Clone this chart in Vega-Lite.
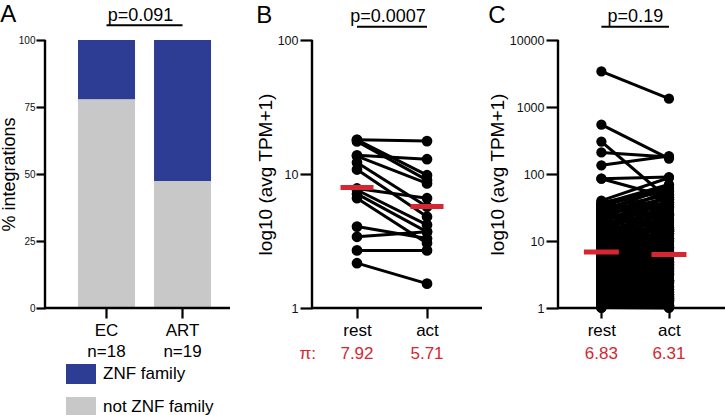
{
  "$schema": "https://vega.github.io/schema/vega-lite/v6.json",
  "padding": {"left": 0, "top": 2, "right": 0, "bottom": 0},
  "background": "white",
  "config": {
    "font": "Liberation Sans",
    "view": {"stroke": null, "fill": null},
    "axis": {"domain": false, "ticks": true, "tickColor": "black", "tickWidth": 2.2, "zindex": 1, "labelColor": "#111", "titleColor": "black", "grid": false, "titleFontWeight": "normal", "labelFont": "Liberation Sans", "titleFont": "Liberation Sans"},
    "title": {"fontSize": 24, "fontWeight": "normal", "anchor": "start", "frame": "bounds", "offset": -20, "font": "Liberation Sans"}
  },
  "datasets": {
    "A": [
      {"cohort": "EC", "group": "ZNF family", "pct": 22.2},
      {"cohort": "EC", "group": "not ZNF family", "pct": 77.8},
      {"cohort": "ART", "group": "ZNF family", "pct": 52.6},
      {"cohort": "ART", "group": "not ZNF family", "pct": 47.4}
    ],
    "B": [
      {"rest": 18.0, "act": 17.6}, {"rest": 18.0, "act": 9.8}, {"rest": 17.5, "act": 9.0},
      {"rest": 13.8, "act": 12.9}, {"rest": 13.6, "act": 8.5}, {"rest": 12.2, "act": 5.7},
      {"rest": 10.8, "act": 4.8}, {"rest": 7.8, "act": 6.6}, {"rest": 7.6, "act": 4.17},
      {"rest": 7.1, "act": 3.7}, {"rest": 6.6, "act": 3.04}, {"rest": 4.05, "act": 3.3},
      {"rest": 3.4, "act": 3.7}, {"rest": 2.69, "act": 2.69}, {"rest": 2.16, "act": 1.52}
    ],
    "Bmean": [{"cond": "rest", "m": 7.92}, {"cond": "act", "m": 5.71}],
    "C": [
      {"rest": 3390, "act": 1330}, {"rest": 545, "act": 170}, {"rest": 305, "act": 42},
      {"rest": 210, "act": 180}, {"rest": 135, "act": 185}, {"rest": 85, "act": 90},
      {"rest": 85, "act": 45}, {"rest": 40, "act": 88}, {"rest": 36, "act": 70},
      {"rest": 33, "act": 62}, {"rest": 38, "act": 55},
      {"rest": 1.0, "act": 1.3}, {"rest": 1.02, "act": 1.0}, {"rest": 1.05, "act": 2.4}, {"rest": 1.08, "act": 1.1}, {"rest": 1.1, "act": 1.8},
      {"rest": 1.13, "act": 1.05}, {"rest": 1.16, "act": 3.1}, {"rest": 1.2, "act": 1.2}, {"rest": 1.23, "act": 1.5}, {"rest": 1.27, "act": 2.0},
      {"rest": 1.3, "act": 1.02}, {"rest": 1.34, "act": 2.8}, {"rest": 1.38, "act": 1.6}, {"rest": 1.42, "act": 4.5}, {"rest": 1.46, "act": 1.25},
      {"rest": 1.5, "act": 1.4}, {"rest": 1.55, "act": 3.6}, {"rest": 1.6, "act": 1.15}, {"rest": 1.65, "act": 2.2}, {"rest": 1.7, "act": 1.9},
      {"rest": 1.75, "act": 1.35}, {"rest": 1.8, "act": 5.5}, {"rest": 1.86, "act": 2.6}, {"rest": 1.92, "act": 1.7}, {"rest": 1.98, "act": 3.3},
      {"rest": 2.05, "act": 1.08}, {"rest": 2.1, "act": 6.5}, {"rest": 2.2, "act": 2.1}, {"rest": 2.25, "act": 4.0}, {"rest": 2.3, "act": 1.55},
      {"rest": 2.4, "act": 2.9}, {"rest": 2.5, "act": 1.45}, {"rest": 2.6, "act": 7.8}, {"rest": 2.7, "act": 3.5}, {"rest": 2.8, "act": 2.0},
      {"rest": 2.9, "act": 9.5}, {"rest": 3.0, "act": 1.75}, {"rest": 3.1, "act": 4.8}, {"rest": 3.2, "act": 2.5}, {"rest": 3.3, "act": 12},
      {"rest": 3.45, "act": 3.0}, {"rest": 3.6, "act": 5.2}, {"rest": 3.7, "act": 1.6}, {"rest": 3.85, "act": 8.5}, {"rest": 4.0, "act": 4.2},
      {"rest": 4.1, "act": 2.3}, {"rest": 4.3, "act": 14}, {"rest": 4.4, "act": 3.8}, {"rest": 4.6, "act": 6.0}, {"rest": 4.8, "act": 1.9},
      {"rest": 5.0, "act": 4.4}, {"rest": 5.2, "act": 11}, {"rest": 5.4, "act": 3.2}, {"rest": 5.6, "act": 7.0}, {"rest": 5.8, "act": 2.7},
      {"rest": 6.0, "act": 16}, {"rest": 6.3, "act": 5.0}, {"rest": 6.5, "act": 9.0}, {"rest": 6.8, "act": 1.85}, {"rest": 7.0, "act": 6.2},
      {"rest": 7.3, "act": 20}, {"rest": 7.6, "act": 4.6}, {"rest": 7.9, "act": 10}, {"rest": 8.2, "act": 2.4}, {"rest": 8.5, "act": 13},
      {"rest": 8.8, "act": 7.4}, {"rest": 9.2, "act": 3.4}, {"rest": 9.5, "act": 25}, {"rest": 9.9, "act": 5.8}, {"rest": 10.3, "act": 8.0},
      {"rest": 10.7, "act": 6.8}, {"rest": 11.1, "act": 18}, {"rest": 11.5, "act": 3.9}, {"rest": 12, "act": 30}, {"rest": 12.5, "act": 9.8},
      {"rest": 13, "act": 5.3}, {"rest": 13.5, "act": 15}, {"rest": 14, "act": 22}, {"rest": 14.5, "act": 2.6}, {"rest": 15, "act": 11.5},
      {"rest": 15.6, "act": 40}, {"rest": 16.2, "act": 8.8}, {"rest": 16.8, "act": 14.5}, {"rest": 17.5, "act": 28}, {"rest": 18.2, "act": 6.5},
      {"rest": 19, "act": 19}, {"rest": 19.7, "act": 45}, {"rest": 20.5, "act": 12.5}, {"rest": 21.3, "act": 35}, {"rest": 22, "act": 4.3},
      {"rest": 23, "act": 26}, {"rest": 24, "act": 55}, {"rest": 25, "act": 17}, {"rest": 26, "act": 38}, {"rest": 27, "act": 10.5},
      {"rest": 28.5, "act": 62}, {"rest": 30, "act": 24}, {"rest": 31, "act": 48}, {"rest": 32.5, "act": 21}, {"rest": 34, "act": 33},
      {"rest": 2.0, "act": 2.3}, {"rest": 3.5, "act": 1.3}, {"rest": 5.5, "act": 2.0}, {"rest": 8.0, "act": 3.0}, {"rest": 11, "act": 4.5},
      {"rest": 16, "act": 6.0}, {"rest": 24, "act": 9.0}, {"rest": 29, "act": 14}, {"rest": 33, "act": 20}, {"rest": 1.4, "act": 6.0},
      {"rest": 1.9, "act": 9.0}, {"rest": 2.6, "act": 15}, {"rest": 4.2, "act": 25}, {"rest": 6.2, "act": 35}, {"rest": 9.0, "act": 42},
      {"rest": 1.15, "act": 1.7}, {"rest": 1.6, "act": 1.1}, {"rest": 3.0, "act": 2.6}, {"rest": 12.8, "act": 1.5}, {"rest": 20, "act": 2.2},
      {"rest": 26, "act": 3.5}, {"rest": 31, "act": 5.5}, {"rest": 34, "act": 8.0}, {"rest": 17, "act": 1.2}, {"rest": 22.5, "act": 1.4},
      {"rest": 1.05, "act": 4.0}, {"rest": 1.12, "act": 2.7}, {"rest": 1.25, "act": 8.0}, {"rest": 1.33, "act": 1.9}, {"rest": 1.45, "act": 12},
      {"rest": 1.58, "act": 3.0}, {"rest": 1.72, "act": 1.25}, {"rest": 1.85, "act": 20}, {"rest": 2.0, "act": 4.8}, {"rest": 2.15, "act": 1.6},
      {"rest": 2.35, "act": 30}, {"rest": 2.55, "act": 6.8}, {"rest": 2.75, "act": 1.15}, {"rest": 2.95, "act": 18}, {"rest": 3.15, "act": 3.9},
      {"rest": 3.4, "act": 50}, {"rest": 3.65, "act": 2.1}, {"rest": 3.9, "act": 11}, {"rest": 4.2, "act": 1.05}, {"rest": 4.5, "act": 7.2},
      {"rest": 4.9, "act": 38}, {"rest": 5.3, "act": 1.4}, {"rest": 5.7, "act": 4.9}, {"rest": 6.1, "act": 60}, {"rest": 6.6, "act": 2.9},
      {"rest": 7.1, "act": 13}, {"rest": 7.7, "act": 1.02}, {"rest": 8.3, "act": 27}, {"rest": 8.9, "act": 5.4}, {"rest": 9.6, "act": 1.7},
      {"rest": 10.5, "act": 16}, {"rest": 11.3, "act": 2.3}, {"rest": 12.2, "act": 52}, {"rest": 13.2, "act": 7.6}, {"rest": 14.2, "act": 1.3},
      {"rest": 15.3, "act": 32}, {"rest": 16.5, "act": 3.6}, {"rest": 17.8, "act": 10.2}, {"rest": 19.3, "act": 1.1}, {"rest": 21, "act": 58},
      {"rest": 22.8, "act": 6.2}, {"rest": 24.5, "act": 2.0}, {"rest": 26.5, "act": 44}, {"rest": 28, "act": 12.8}, {"rest": 29.5, "act": 1.8},
      {"rest": 31.5, "act": 30}, {"rest": 33.5, "act": 4.0}, {"rest": 35, "act": 66}, {"rest": 1.02, "act": 14}, {"rest": 1.18, "act": 1.35},
      {"rest": 1.52, "act": 24}, {"rest": 2.45, "act": 1.12}, {"rest": 3.25, "act": 9.0}, {"rest": 4.7, "act": 2.5}, {"rest": 6.9, "act": 1.6},
      {"rest": 9.4, "act": 3.2}, {"rest": 13.8, "act": 4.7}, {"rest": 18.6, "act": 8.4}, {"rest": 25.5, "act": 15.5}, {"rest": 32, "act": 1.05}
    ],
    "Cmean": [{"cond": "rest", "m": 6.83}, {"cond": "act", "m": 6.31}]
  },
  "bounds": "flush",
  "spacing": 82,
  "hconcat": [
    {
      "width": 185,
      "height": 268,
      "title": {"text": "A"},
      "layer": [
        {
          "data": {"name": "A"},
          "mark": {"type": "bar"},
          "encoding": {
            "x": {"field": "cohort", "type": "nominal", "sort": ["EC", "ART"], "title": null,
              "scale": {"paddingInner": 0.25, "paddingOuter": 0.342, "align": 0.635},
              "axis": {"labelAngle": 0, "labelFontSize": 17, "tickSize": 10, "labelPadding": 4, "labelLineHeight": 21.5, "labelColor": "black",
                "labelExpr": "datum.value == 'EC' ? ['EC', 'n=18'] : ['ART', 'n=19']"}},
            "y": {"field": "pct", "type": "quantitative", "stack": "zero", "title": "% integrations",
              "scale": {"domain": [0, 100], "nice": false},
              "axis": {"values": [0, 25, 50, 75, 100], "labelFontSize": 10, "tickSize": 9, "labelPadding": 1, "titleFontSize": 18, "titlePadding": 0}},
            "color": {"field": "group", "type": "nominal",
              "scale": {"domain": ["ZNF family", "not ZNF family"], "range": ["#2E3D94", "#C8C8C8"]},
              "legend": {"title": null, "orient": "none", "legendX": 26, "legendY": 324, "direction": "vertical",
                "symbolType": "M-1.5,-1H1.5V1H-1.5Z", "symbolSize": 400, "symbolStrokeWidth": 0, "symbolOpacity": 1,
                "labelFontSize": 17, "labelOffset": 12, "rowPadding": 13, "padding": 0, "labelColor": "black"}},
            "order": {"field": "group", "sort": "descending"}
          }
        },
        {
          "data": {"values": [{"axis": "y"}]},
          "mark": {"type": "rule", "strokeWidth": 2.4, "color": "black"},
          "encoding": {
            "x": {"value": 0},
            "y": {"datum": 0, "type": "quantitative"},
            "y2": {"datum": 100}
          }
        },
        {
          "data": {"values": [{"axis": "x"}]},
          "mark": {"type": "rule", "strokeWidth": 2.4, "color": "black"},
          "encoding": {
            "x": {"value": 0},
            "x2": {"value": "width"},
            "y": {"datum": 0, "type": "quantitative"}
          }
        },
        {
          "data": {"values": [{"p": "p=0.091"}]},
          "mark": {"type": "rule", "strokeWidth": 2, "color": "black"},
          "encoding": {
            "x": {"datum": "EC", "type": "nominal"},
            "x2": {"datum": "ART"},
            "y": {"datum": 105.5, "type": "quantitative"}
          }
        },
        {
          "data": {"values": [{"p": "p=0.091"}]},
          "mark": {"type": "text", "fontSize": 18, "baseline": "alphabetic", "align": "center", "dx": 34, "color": "black"},
          "encoding": {
            "x": {"datum": "EC", "type": "nominal"},
            "y": {"datum": 107.2, "type": "quantitative"},
            "text": {"field": "p"}
          }
        }
      ]
    },
    {
      "bounds": "flush",
      "spacing": 76,
      "hconcat": [
        {
          "width": 170,
          "height": 268,
          "title": {"text": "B"},
          "layer": [
            {
              "data": {"name": "B"},
              "mark": {"type": "rule", "strokeWidth": 3, "color": "black"},
              "encoding": {
                "x": {"datum": "rest", "type": "nominal", "title": null,
                  "scale": {"type": "point", "domain": ["rest", "act"], "padding": 0.714, "align": 0.45},
                  "axis": {"labelAngle": 0, "labelFontSize": 17, "tickSize": 10, "labelPadding": 4, "labelColor": "black"}},
                "x2": {"datum": "act"},
                "y": {"field": "rest", "type": "quantitative", "title": "log10 (avg TPM+1)",
                  "scale": {"type": "log", "domain": [1, 100], "nice": false},
                  "axis": {"values": [1, 10, 100], "format": "d", "labelFontSize": 12.5, "tickSize": 12, "labelPadding": 2, "titleFontSize": 19, "titlePadding": 2}},
                "y2": {"field": "act"}
              }
            },
            {
              "data": {"values": [{"axis": "y"}]},
              "mark": {"type": "rule", "strokeWidth": 2.4, "color": "black"},
              "encoding": {
                "x": {"value": 0},
                "y": {"datum": 1, "type": "quantitative"},
                "y2": {"datum": 100}
              }
            },
            {
              "data": {"values": [{"axis": "x"}]},
              "mark": {"type": "rule", "strokeWidth": 2.4, "color": "black"},
              "encoding": {
                "x": {"value": 0},
                "x2": {"value": "width"},
                "y": {"datum": 1, "type": "quantitative"}
              }
            },
            {
              "data": {"name": "B"},
              "transform": [{"fold": ["rest", "act"], "as": ["cond", "v"]}],
              "mark": {"type": "circle", "size": 115, "opacity": 1, "color": "black"},
              "encoding": {
                "x": {"field": "cond", "type": "nominal", "title": null},
                "y": {"field": "v", "type": "quantitative", "title": "log10 (avg TPM+1)"}
              }
            },
            {
              "data": {"name": "Bmean"},
              "mark": {"type": "tick", "color": "#D62631", "thickness": 5, "size": 33, "opacity": 1},
              "encoding": {
                "x": {"field": "cond", "type": "nominal", "title": null},
                "y": {"field": "m", "type": "quantitative", "title": "log10 (avg TPM+1)"}
              }
            },
            {
              "data": {"name": "Bmean"},
              "mark": {"type": "text", "color": "#D62631", "fontSize": 17, "baseline": "alphabetic", "dy": 51},
              "encoding": {
                "x": {"field": "cond", "type": "nominal", "title": null},
                "y": {"value": "height"},
                "text": {"field": "m", "type": "quantitative", "format": ".2f"}
              }
            },
            {
              "data": {"values": [{"lab": "π:"}]},
              "mark": {"type": "text", "color": "#D62631", "fontSize": 17, "baseline": "alphabetic", "align": "right", "dx": -41, "dy": 51},
              "encoding": {
                "x": {"datum": "rest", "type": "nominal"},
                "y": {"value": "height"},
                "text": {"field": "lab"}
              }
            },
            {
              "data": {"values": [{"p": "p=0.0007"}]},
              "mark": {"type": "rule", "strokeWidth": 2, "color": "black"},
              "encoding": {
                "x": {"datum": "rest", "type": "nominal"},
                "x2": {"datum": "act"},
                "y": {"datum": 125.7, "type": "quantitative"}
              }
            },
            {
              "data": {"values": [{"p": "p=0.0007"}]},
              "mark": {"type": "text", "fontSize": 18, "baseline": "alphabetic", "align": "center", "dx": 31, "color": "black"},
              "encoding": {
                "x": {"datum": "rest", "type": "nominal"},
                "y": {"datum": 137, "type": "quantitative"},
                "text": {"field": "p"}
              }
            }
          ]
        },
        {
          "width": 168,
          "height": 268,
          "title": {"text": "C"},
          "layer": [
            {
              "data": {"name": "C"},
              "mark": {"type": "rule", "strokeWidth": 3, "color": "black"},
              "encoding": {
                "x": {"datum": "rest", "type": "nominal", "title": null,
                  "scale": {"type": "point", "domain": ["rest", "act"], "padding": 0.743, "align": 0.432},
                  "axis": {"labelAngle": 0, "labelFontSize": 17, "tickSize": 10, "labelPadding": 4, "labelColor": "black"}},
                "x2": {"datum": "act"},
                "y": {"field": "rest", "type": "quantitative", "title": "log10 (avg TPM+1)",
                  "scale": {"type": "log", "domain": [1, 10000], "nice": false},
                  "axis": {"values": [1, 10, 100, 1000, 10000], "format": "d", "labelFontSize": 12.5, "tickSize": 12, "labelPadding": 2, "titleFontSize": 19, "titlePadding": 2}},
                "y2": {"field": "act"}
              }
            },
            {
              "data": {"values": [{"axis": "y"}]},
              "mark": {"type": "rule", "strokeWidth": 2.4, "color": "black"},
              "encoding": {
                "x": {"value": 0},
                "y": {"datum": 1, "type": "quantitative"},
                "y2": {"datum": 10000}
              }
            },
            {
              "data": {"values": [{"axis": "x"}]},
              "mark": {"type": "rule", "strokeWidth": 2.4, "color": "black"},
              "encoding": {
                "x": {"value": 0},
                "x2": {"value": "width"},
                "y": {"datum": 1, "type": "quantitative"}
              }
            },
            {
              "data": {"name": "C"},
              "transform": [{"fold": ["rest", "act"], "as": ["cond", "v"]}],
              "mark": {"type": "circle", "size": 105, "opacity": 1, "color": "black"},
              "encoding": {
                "x": {"field": "cond", "type": "nominal", "title": null},
                "y": {"field": "v", "type": "quantitative", "title": "log10 (avg TPM+1)"}
              }
            },
            {
              "data": {"name": "Cmean"},
              "mark": {"type": "tick", "color": "#D62631", "thickness": 5, "size": 35, "opacity": 1},
              "encoding": {
                "x": {"field": "cond", "type": "nominal", "title": null},
                "y": {"field": "m", "type": "quantitative", "title": "log10 (avg TPM+1)"}
              }
            },
            {
              "data": {"name": "Cmean"},
              "mark": {"type": "text", "color": "#D62631", "fontSize": 17, "baseline": "alphabetic", "dy": 51},
              "encoding": {
                "x": {"field": "cond", "type": "nominal", "title": null},
                "y": {"value": "height"},
                "text": {"field": "m", "type": "quantitative", "format": ".2f"}
              }
            },
            {
              "data": {"values": [{"p": "p=0.19"}]},
              "mark": {"type": "rule", "strokeWidth": 2, "color": "black"},
              "encoding": {
                "x": {"datum": "rest", "type": "nominal"},
                "x2": {"datum": "act"},
                "y": {"datum": 15800, "type": "quantitative"}
              }
            },
            {
              "data": {"values": [{"p": "p=0.19"}]},
              "mark": {"type": "text", "fontSize": 18, "baseline": "alphabetic", "align": "center", "dx": 34, "color": "black"},
              "encoding": {
                "x": {"datum": "rest", "type": "nominal"},
                "y": {"datum": 18700, "type": "quantitative"},
                "text": {"field": "p"}
              }
            }
          ]
        }
      ]
    }
  ]
}
